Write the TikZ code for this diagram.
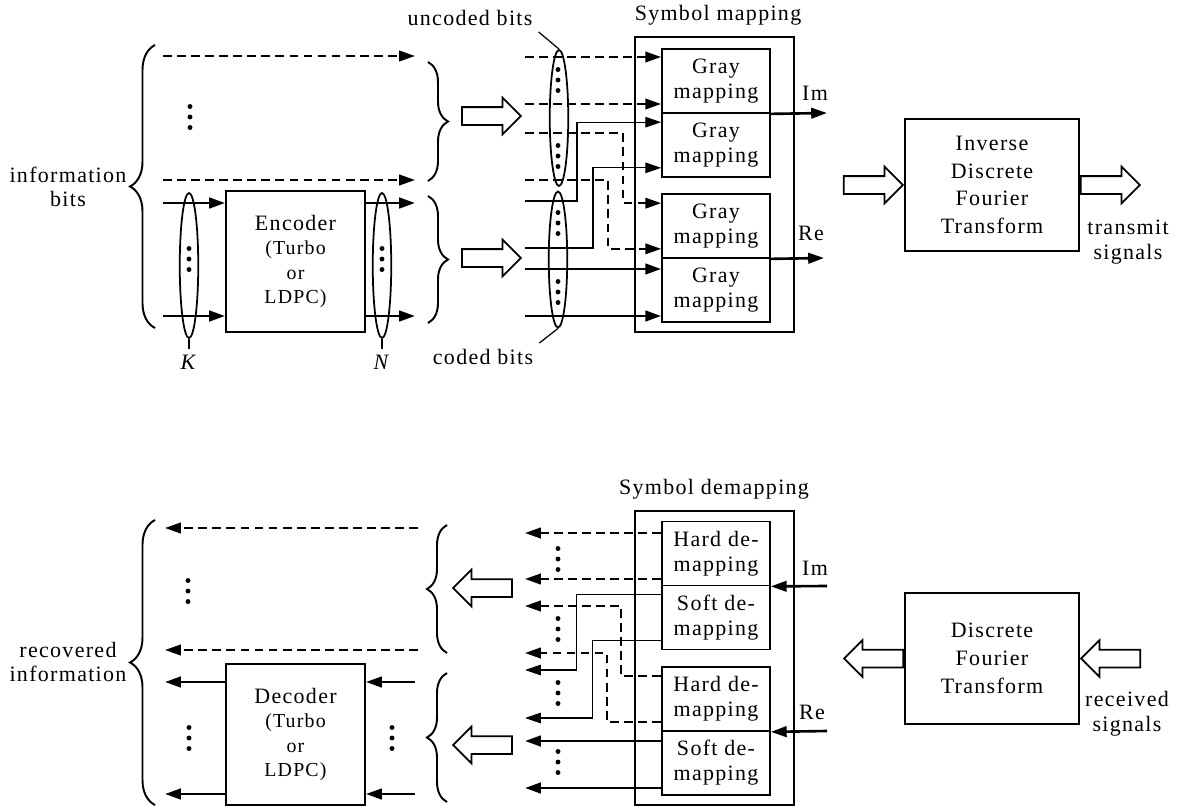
\documentclass[tikz,border=0pt]{standalone}
\usepackage{fontspec}
\setmainfont[LetterSpace=6]{Liberation Serif}
\usetikzlibrary{arrows.meta,positioning,shapes.geometric,shapes.arrows,decorations.pathreplacing}
\newcommand\smallfnt{\fontsize{11.3}{12.2}\selectfont}
\newcommand\tfnt{\fontsize{12.5}{15.8}\selectfont}
\tikzset{
  blk/.style={draw,line width=1.1pt,align=center,inner sep=0pt},
  sub/.style={draw,line width=1pt,align=center,inner sep=0pt,
    minimum width=2.16cm,minimum height=1.28cm,font=\fontsize{12.5}{14.2}\selectfont},
  note/.style={align=center},
  ell/.style={ellipse,draw,line width=1pt,inner sep=0pt,minimum width=0.37cm},
  hollow/.style={single arrow,draw,line width=1pt,inner xsep=0pt,inner ysep=0.16cm,
    minimum height=1.18cm,minimum width=0.7cm,single arrow head extend=0.19cm},
  arr/.style={-{Triangle[length=9pt,width=6pt]}},
  thk/.style={line width=1.5pt},
  thn/.style={line width=0.7pt},
  dsh/.style={line width=1.2pt,dash pattern=on 5pt off 3pt},
  brc/.style={decorate,decoration={brace,amplitude=#1},line width=1.1pt}
}

\begin{document}
\begin{tikzpicture}[x=0.02cm,y=-0.02cm,font=\fontsize{12.5}{14}\selectfont]
  \useasboundingbox (0,0) rectangle (1186,808);

  % ---- transmitter ----
  \node[note] (info) at (68,187) {information\\bits};
  \draw[brc=0.5cm] (155,328) -- (155,45);

  \node[blk,minimum width=2.78cm,minimum height=2.82cm] (enc) at (295.5,261.5)
    {Encoder\\{\smallfnt (Turbo}\\{\smallfnt or}\\{\smallfnt LDPC)}};
  \coordinate (ia) at (163,56);  \coordinate (ib) at (163,180);
  \coordinate (ka) at (163,203); \coordinate (kb) at (163,316);
  \coordinate (na) at (415,203); \coordinate (nb) at (415,316);
  \draw[dsh,arr] (ia) -- (ia -| na);
  \draw[dsh,arr] (ib) -- (ib -| na);
  \draw[thk,arr] (ka) -- (ka -| enc.west);
  \draw[thk,arr] (kb) -- (kb -| enc.west);
  \draw[thk,arr] (enc.east |- na) -- (na);
  \draw[thk,arr] (enc.east |- nb) -- (nb);

  \node[ell,minimum height=2.9cm] (ek) at (189,265.5) {};
  \node[ell,minimum height=2.9cm] (en) at (382,265.5) {};
  \node (K) at (189,362) {\textit{K}};
  \node (N) at (382,362) {\textit{N}};
  \draw[line width=1pt] (ek.south) -- (K);
  \draw[line width=1pt] (en.south) -- (N);

  \draw[brc=0.4cm] (428,62) -- (428,181);
  \draw[brc=0.4cm] (428,196) -- (428,323);
  \node[hollow] (hu) at (487,116) {};
  \node[hollow] (hc) at (487,258) {};

  % symbol mapping
  \node[blk,minimum width=3.18cm,minimum height=5.9cm] (map) at (714.5,184.5) {};
  \node (maplbl) at (718,15) {Symbol mapping};
  \node[sub] (gm1) at (716,81) {Gray\\mapping};
  \node[sub] (gm2) at (716,145) {Gray\\mapping};
  \node[sub] (gm3) at (716,226) {Gray\\mapping};
  \node[sub] (gm4) at (716,290) {Gray\\mapping};

  \node[ell,minimum height=2.72cm] (eu) at (559,118) {};
  \node[ell,minimum height=2.72cm] (ec) at (558,259.5) {};
  \node (unc) at (470,18) {uncoded bits};
  \node (cod) at (483,357) {coded bits};
  \draw[thn] (unc.south east) -- (eu.north);
  \draw[thn] (ec.south) -- (cod.north east);

  \foreach \n/\y in {u1/57,u2/104,u3/133,u4/180,c1/201,c2/248,c3/269,c4/316}
    \coordinate (\n) at (525,\y);
  \draw[dsh,arr] (u1) -- (u1 -| gm1.west);
  \draw[dsh,arr] (u2) -- (u2 -| gm1.west);
  \draw[thn,arr] (c1) -- ++(52,0) |- ([yshift=13pt]gm2.west);
  \draw[dsh,arr] (u3) -- ++(98,0) |- ([yshift=13pt]gm3.west);
  \draw[thn,arr] (c2) -- ++(68,0) |- ([yshift=-13pt]gm2.west);
  \draw[dsh,arr] (u4) -- ++(83,0) |- ([yshift=-13pt]gm3.west);
  \draw[thk,arr] (c3) -- (c3 -| gm4.west);
  \draw[thk,arr] (c4) -- (c4 -| gm4.west);

  \coordinate (imo) at (827,113); \coordinate (reo) at (824,258);
  \draw[thk,arr] (gm1.south east) -- (imo);
  \draw[thk,arr] (gm3.south east) -- (reo);
  \node (imt) at (815,93) {Im};
  \node (ret) at (811,233) {Re};

  \node[blk,font=\tfnt,minimum width=3.48cm,minimum height=2.64cm] (idft) at (992,185)
    {Inverse\\Discrete\\Fourier\\Transform};
  \node[hollow,anchor=tip] (hin) at (idft.west) {};
  \node[hollow,anchor=tail] (hout) at (idft.east) {};
  \node[note] (tx) at (1128,242) {transmit\\signals};

  % ---- receiver ----
  \node[note] (rec) at (68,662) {recovered\\information};
  \draw[brc=0.5cm] (155,805) -- (155,520);

  \node[blk,minimum width=2.78cm,minimum height=2.82cm] (dec) at (295.5,734.5)
    {Decoder\\{\smallfnt (Turbo}\\{\smallfnt or}\\{\smallfnt LDPC)}};
  \coordinate (oa) at (165,528); \coordinate (ob) at (165,650);
  \coordinate (pa) at (418,528); \coordinate (pb) at (418,650);
  \coordinate (oc) at (165,682); \coordinate (od) at (165,794);
  \coordinate (qc) at (415,682); \coordinate (qd) at (415,794);
  \draw[dsh,arr] (pa) -- (oa);
  \draw[dsh,arr] (pb) -- (ob);
  \draw[thk,arr] (dec.west |- oc) -- (oc);
  \draw[thk,arr] (dec.west |- od) -- (od);
  \draw[thk,arr] (qc) -- (qc -| dec.east);
  \draw[thk,arr] (qd) -- (qd -| dec.east);

  \draw[brc=0.4cm] (447,653) -- (447,525);
  \draw[brc=0.4cm] (447,802) -- (447,673);
  \node[hollow,shape border rotate=180] (hbu) at (487,588) {};
  \node[hollow,shape border rotate=180] (hbc) at (487,745) {};

  % symbol demapping
  \node[blk,minimum width=3.18cm,minimum height=5.88cm] (demap) at (714.5,658) {};
  \node (demaplbl) at (714,489) {Symbol demapping};
  \node[sub] (hd1) at (716,553.5) {Hard de-\\mapping};
  \node[sub] (sd1) at (716,617.5) {Soft de-\\mapping};
  \node[sub] (hd2) at (716,699) {Hard de-\\mapping};
  \node[sub] (sd2) at (716,763) {Soft de-\\mapping};

  \foreach \n/\y in {r1/533,r2/579,r3/606,r4/653,r5/670,r6/718,r7/741,r8/788}
    \coordinate (\n) at (525,\y);
  \draw[dsh,arr] (r1 -| hd1.west) -- (r1);
  \draw[dsh,arr] (r2 -| hd1.west) -- (r2);
  \draw[thn,arr] ([yshift=13pt]sd1.west) -- ++(-85,0) |- (r5);
  \draw[dsh,arr] ([yshift=13pt]hd2.west) -- ++(-40,0) |- (r3);
  \draw[thn,arr] ([yshift=-13pt]sd1.west) -- ++(-69,0) |- (r6);
  \draw[dsh,arr] ([yshift=-13pt]hd2.west) -- ++(-54,0) |- (r4);
  \draw[thk,arr] (r7 -| sd2.west) -- (r7);
  \draw[thk,arr] (r8 -| sd2.west) -- (r8);

  \coordinate (imi) at (827,586); \coordinate (rei) at (827,731);
  \draw[thk,arr] (imi) -- (hd1.south east);
  \draw[thk,arr] (rei) -- (hd2.south east);
  \node (imr) at (815,568) {Im};
  \node (rer) at (812,712) {Re};

  \node[blk,font=\tfnt,minimum width=3.48cm,minimum height=2.62cm] (dft) at (992,658.5)
    {Discrete\\Fourier\\Transform};
  \node[hollow,shape border rotate=180,anchor=tail] (hdl) at (dft.west) {};
  \node[hollow,shape border rotate=180,anchor=tip] (hdr) at (dft.east) {};
  \node[note] (rx) at (1127,714) {received\\signals};

  % dots
  \foreach \x/\y in {190/117,189/259,382/259,558/80,558/156,558/223,558/292,
                     188/591,189/738,392/738,558/559,558/629,558/693,558/762}
    \fill (\x,\y-10.5) circle (1.4pt) (\x,\y) circle (1.4pt) (\x,\y+10.5) circle (1.4pt);
\end{tikzpicture}
\end{document}
